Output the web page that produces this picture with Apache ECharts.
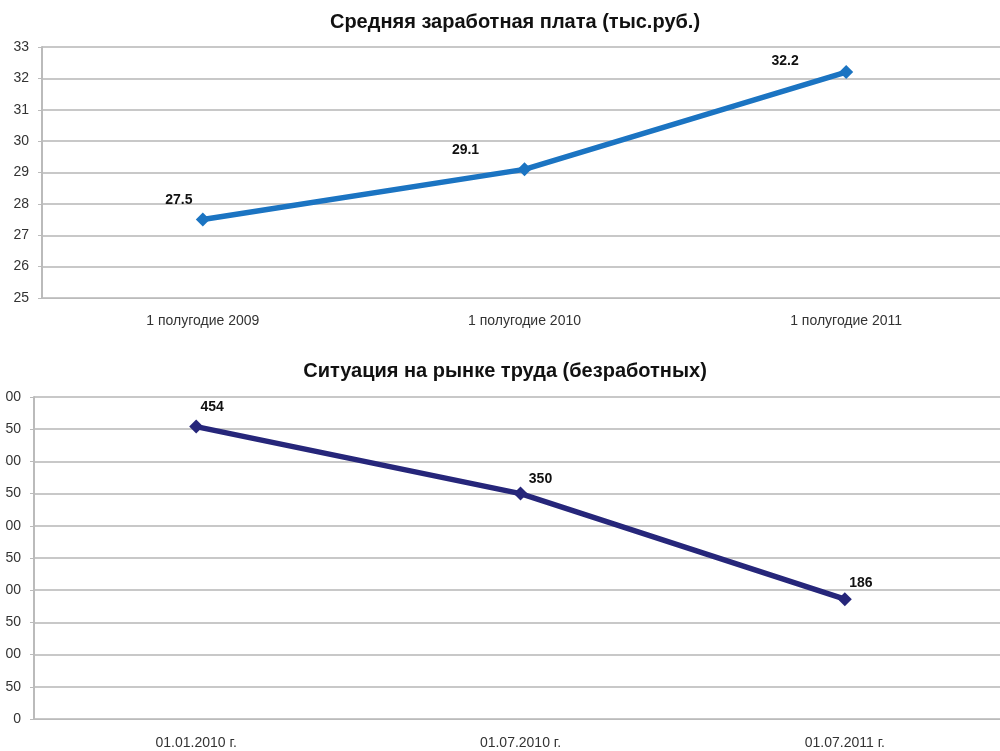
<!DOCTYPE html>
<html>
<head>
<meta charset="utf-8">
<script src="https://cdn.jsdelivr.net/npm/echarts@6/dist/echarts.min.js"></script>
<style>
  html, body { margin: 0; padding: 0; background: #fff; }
  #chart { width: 1000px; height: 751px; }
</style>
</head>
<body>
<div id="chart"></div>
<script>
// зарплата
var salaryCategories = ['1 полугодие 2009', '1 полугодие 2010', '1 полугодие 2011'];
var salaryValues = [27.5, 29.1, 32.2];
// безработные
var jobCategories = ['01.01.2010 г.', '01.07.2010 г.', '01.07.2011 г.'];
var jobValues = [454, 350, 186];

// label offsets (в исходнике подписи разнесены вручную)
var salaryLabelOffsets = [[-24, 0], [-59, 0], [-61, 8]];
var jobLabelOffsets = [[16, 0], [20, 5], [16, 3]];

var font = 'Liberation Sans, Arial, sans-serif';

function buildData(values, offsets) {
    return values.map(function (v, i) {
        return { value: v, label: { offset: offsets[i] } };
    });
}

var axisLabelStyle = { color: '#333', fontSize: 14, fontFamily: font };

option = {
    backgroundColor: '#FFFFFF',
    animation: false,
    title: [{
        text: 'Средняя заработная плата (тыс.руб.)',
        left: 510, top: 7, textAlign: 'center',
        textStyle: { color: '#111', fontSize: 20, fontWeight: 'bold', fontFamily: font }
    }, {
        text: 'Ситуация на рынке труда (безработных)',
        left: 500, top: 356, textAlign: 'center',
        textStyle: { color: '#111', fontSize: 20, fontWeight: 'bold', fontFamily: font }
    }],
    // левый край нижнего графика в исходнике обрезан
    graphic: [{
        type: 'rect',
        left: 0, top: 385,
        shape: { width: 5, height: 345 },
        style: { fill: '#FFFFFF' },
        z: 100
    }],
    grid: [
        { left: 42, width: 965, top: 47, height: 251, outerBoundsMode: 'none' },
        { left: 34, width: 973, top: 397, height: 322, outerBoundsMode: 'none' }
    ],
    xAxis: [{
        gridIndex: 0,
        type: 'category',
        data: salaryCategories,
        boundaryGap: true,
        axisLine: { lineStyle: { color: '#bbb', width: 1 } },
        axisTick: { show: false },
        axisLabel: Object.assign({ margin: 16 }, axisLabelStyle)
    }, {
        gridIndex: 1,
        type: 'category',
        data: jobCategories,
        boundaryGap: true,
        axisLine: { lineStyle: { color: '#bbb', width: 1 } },
        axisTick: { show: false },
        axisLabel: Object.assign({ margin: 17 }, axisLabelStyle)
    }],
    yAxis: [{
        gridIndex: 0,
        type: 'value',
        min: 25, max: 33, interval: 1,
        axisLine: { show: true, lineStyle: { color: '#bbb', width: 2 } },
        axisTick: { show: true, length: 4, lineStyle: { color: '#bbb' } },
        axisLabel: Object.assign({ margin: 13 }, axisLabelStyle),
        splitLine: { lineStyle: { color: '#c8c8c8', width: 2 } }
    }, {
        gridIndex: 1,
        type: 'value',
        min: 0, max: 500, interval: 50,
        axisLine: { show: true, lineStyle: { color: '#bbb', width: 2 } },
        axisTick: { show: true, length: 4, lineStyle: { color: '#bbb' } },
        axisLabel: Object.assign({ margin: 13 }, axisLabelStyle),
        splitLine: { lineStyle: { color: '#c8c8c8', width: 2 } }
    }],
    series: [{
        name: 'Средняя заработная плата',
        type: 'line',
        xAxisIndex: 0, yAxisIndex: 0,
        data: buildData(salaryValues, salaryLabelOffsets),
        symbol: 'diamond',
        symbolSize: 14,
        lineStyle: { color: '#1b74c2', width: 5.5 },
        itemStyle: { color: '#1b74c2' },
        label: {
            show: true, position: 'top',
            color: '#111', fontSize: 14, fontWeight: 'bold', fontFamily: font
        }
    }, {
        name: 'Безработные',
        type: 'line',
        xAxisIndex: 1, yAxisIndex: 1,
        data: buildData(jobValues, jobLabelOffsets),
        symbol: 'diamond',
        symbolSize: 14,
        lineStyle: { color: '#26267a', width: 5.5 },
        itemStyle: { color: '#26267a' },
        label: {
            show: true, position: 'top',
            color: '#111', fontSize: 14, fontWeight: 'bold', fontFamily: font
        }
    }]
};

myChart = echarts.init(document.getElementById('chart'));
myChart.setOption(option);
</script>
</body>
</html>
